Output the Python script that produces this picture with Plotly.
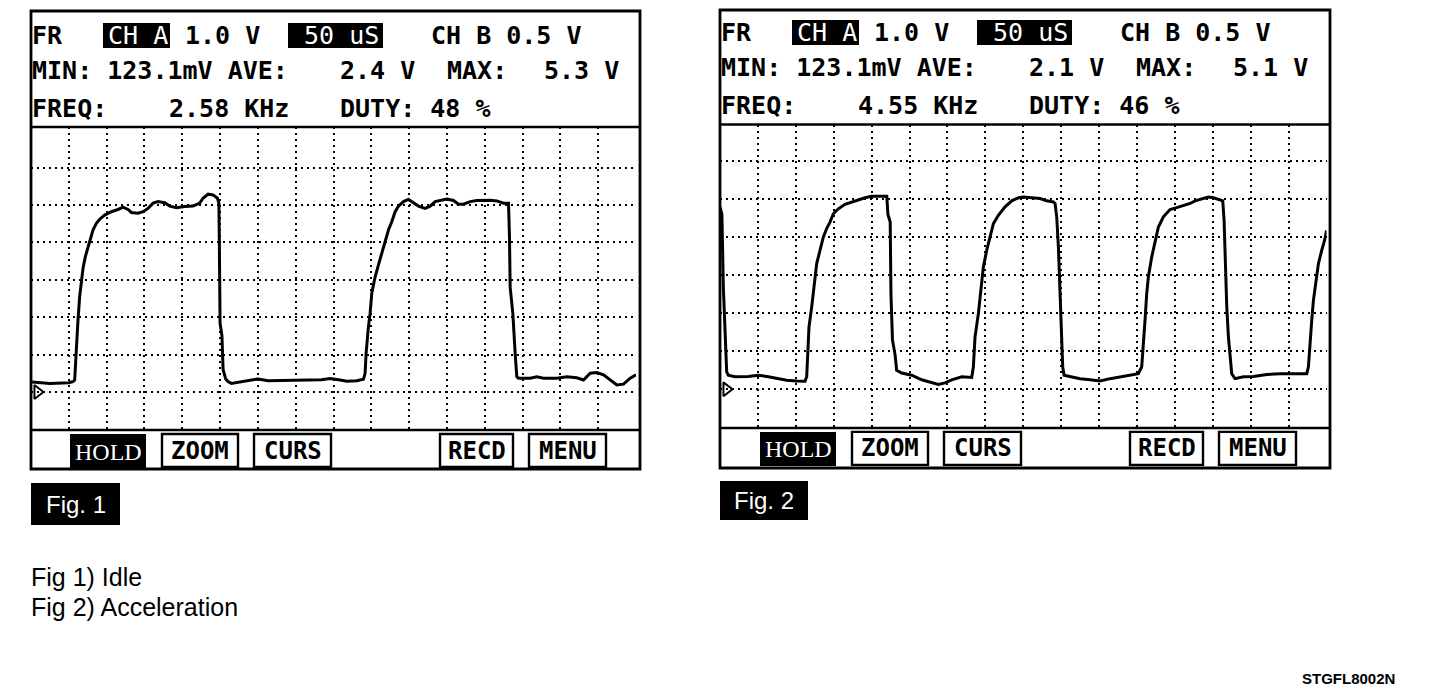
import plotly.graph_objects as go

W, H = 1440, 696
PAGE_MARGIN = 8  # default body margin of the html page

# ---------------- data (time in screen divisions, volts) ----------------
fig1_time_div = [0.03, 0.5, 1.0, 1.11, 1.155, 1.2, 1.243, 1.287, 1.332, 1.376, 1.437, 1.508, 1.579, 1.64,
                 1.728, 1.817, 1.949, 2.125, 2.302, 2.434, 2.566, 2.654, 2.831, 2.963, 3.095, 3.228, 3.36,
                 3.536, 3.669, 3.845, 4.065, 4.286, 4.462, 4.55, 4.683, 4.815, 4.93, 4.97, 4.99, 5.0, 5.05,
                 5.08, 5.15, 5.21, 5.3, 5.653, 6.005, 6.27, 6.799, 7.328, 7.681, 7.91, 8.175, 8.351, 8.616,
                 8.792, 8.836, 8.862, 8.924, 8.968, 9.012, 9.101, 9.189, 9.277, 9.365, 9.453, 9.541, 9.63,
                 9.718, 9.85, 9.982, 10.115, 10.247, 10.423, 10.556, 10.688, 10.82, 10.997, 11.173, 11.305,
                 11.437, 11.614, 11.79, 11.966, 12.143, 12.319, 12.496, 12.628, 12.654, 12.672, 12.743,
                 12.804, 12.848, 12.892, 13.201, 13.377, 13.554, 13.907, 14.171, 14.436, 14.612, 14.788,
                 14.965, 15.141, 15.317, 15.494, 15.67, 15.847, 16.0]
fig1_volts = [0.27, 0.23, 0.25, 0.28, 0.32, 1.35, 1.93, 2.55, 3.0, 3.31, 3.62, 3.89, 4.15, 4.33, 4.51, 4.62,
              4.73, 4.82, 4.88, 4.94, 4.88, 4.8, 4.78, 4.82, 4.91, 5.05, 5.09, 5.06, 4.97, 4.93, 4.96, 4.97,
              5.05, 5.18, 5.29, 5.27, 5.18, 5.05, 3.0, 1.84, 1.5, 0.6, 0.35, 0.28, 0.23, 0.28, 0.35, 0.3,
              0.32, 0.32, 0.33, 0.36, 0.32, 0.29, 0.3, 0.34, 0.5, 1.03, 1.75, 2.1, 2.64, 3.08, 3.4, 3.71,
              4.06, 4.33, 4.55, 4.82, 4.97, 5.09, 5.15, 5.06, 4.97, 4.91, 4.97, 5.09, 5.12, 5.16, 5.12, 5.02,
              5.02, 5.09, 5.12, 5.13, 5.13, 5.11, 5.05, 5.05, 4.15, 2.8, 2.1, 1.03, 0.41, 0.37, 0.37, 0.41,
              0.37, 0.37, 0.41, 0.38, 0.32, 0.5, 0.52, 0.46, 0.32, 0.19, 0.21, 0.37, 0.46]

fig2_time_div = [0.0, 0.05, 0.088, 0.132, 0.176, 0.22, 0.396, 0.748, 1.011, 1.275, 1.539, 1.759, 2.023,
                 2.243, 2.287, 2.313, 2.348, 2.419, 2.463, 2.507, 2.551, 2.639, 2.727, 2.814, 2.902, 2.99,
                 3.122, 3.298, 3.474, 3.65, 3.826, 4.002, 4.178, 4.4, 4.43, 4.49, 4.51, 4.55, 4.62, 4.66,
                 4.794, 5.057, 5.321, 5.585, 5.761, 5.937, 6.113, 6.377, 6.641, 6.684, 6.728, 6.816, 6.904,
                 6.948, 7.036, 7.124, 7.212, 7.344, 7.52, 7.696, 7.872, 8.004, 8.179, 8.443, 8.619, 8.795,
                 8.839, 8.883, 8.927, 8.971, 9.015, 9.041, 9.077, 9.235, 9.499, 9.763, 10.026, 10.29,
                 10.554, 10.818, 11.037, 11.125, 11.169, 11.213, 11.257, 11.301, 11.389, 11.477, 11.565,
                 11.697, 11.873, 12.049, 12.225, 12.401, 12.533, 12.708, 12.884, 13.016, 13.193, 13.263,
                 13.298, 13.325, 13.369, 13.412, 13.456, 13.5, 13.588, 13.808, 14.072, 14.424, 14.776,
                 15.127, 15.479, 15.523, 15.567, 15.611, 15.655, 15.743, 15.787, 15.875, 15.963, 16.0]
fig2_volts = [4.8, 4.6, 2.69, 1.29, 0.46, 0.37, 0.33, 0.34, 0.37, 0.33, 0.28, 0.24, 0.22, 0.21, 0.33, 1.11,
              1.64, 2.17, 2.61, 2.96, 3.31, 3.66, 4.01, 4.23, 4.4, 4.62, 4.75, 4.87, 4.93, 4.99, 5.04, 5.08,
              5.08, 5.08, 4.6, 4.4, 2.5, 1.3, 0.9, 0.5, 0.43, 0.37, 0.25, 0.17, 0.13, 0.17, 0.25, 0.33, 0.31,
              0.59, 1.38, 1.99, 2.78, 3.22, 3.66, 4.05, 4.36, 4.58, 4.8, 4.96, 5.04, 5.06, 5.04, 5.02, 4.96,
              4.93, 4.89, 4.54, 3.75, 2.43, 1.29, 0.59, 0.37, 0.33, 0.28, 0.25, 0.22, 0.28, 0.33, 0.37, 0.41,
              0.59, 1.11, 1.82, 2.52, 2.96, 3.48, 3.92, 4.27, 4.54, 4.73, 4.78, 4.84, 4.89, 4.96, 5.02, 5.06,
              5.04, 4.99, 4.96, 4.45, 3.31, 2.17, 1.38, 0.76, 0.41, 0.28, 0.33, 0.34, 0.39, 0.41, 0.41, 0.41,
              0.59, 1.29, 1.82, 2.34, 2.96, 3.31, 3.66, 3.97, 4.18]

ch_a_scale = ["1.0 V", "1.0 V"]
timebase = ["50 uS", "50 uS"]
ch_b_scale = ["CH B 0.5 V", "CH B 0.5 V"]
min_vals = ["123.1mV", "123.1mV"]
ave_vals = ["2.4 V", "2.1 V"]
max_vals = ["5.3 V", "5.1 V"]
freq_vals = ["2.58 KHz", "4.55 KHz"]
duty_vals = ["48 %", "46 %"]
buttons = ["HOLD", "ZOOM", "CURS", "RECD", "MENU"]
fig_labels = ["Fig. 1", "Fig. 2"]
captions = ["Fig 1) Idle", "Fig 2) Acceleration"]
doc_code = "STGFL8002N"

# ---------------- helpers (page pixel -> paper fraction) ----------------
def xp(px):
    return (px - PAGE_MARGIN) / W

def yp(py):
    return 1 - (py - PAGE_MARGIN) / H

MONO = "DejaVu Sans Mono"
SANS = "Liberation Sans"

shapes = []
annotations = []

def text(x, y, s, size=25, color="black", family=MONO, weight="bold", anchor="left"):
    annotations.append(dict(x=xp(x), y=yp(y), xref="paper", yref="paper", text=s, showarrow=False,
                            xanchor=anchor, yanchor="middle", borderpad=0,
                            font=dict(family=family, size=size, color=color, weight=weight)))

def rect(x0, y0, x1, y1, fill=None, lw=2.5, layer="above"):
    shapes.append(dict(type="rect", xref="paper", yref="paper", x0=xp(x0), x1=xp(x1), y0=yp(y0), y1=yp(y1),
                       line=dict(color="black", width=lw), fillcolor=fill if fill else "rgba(0,0,0,0)",
                       layer=layer))

def hline(x0, x1, y, lw=2.0):
    shapes.append(dict(type="line", xref="paper", yref="paper", x0=xp(x0), x1=xp(x1), y0=yp(y), y1=yp(y),
                       line=dict(color="black", width=lw), layer="above"))

# screen geometry for both scope screens
screens = [
    dict(left=31, right=640, top=11, bottom=469, sep=127, bar=430, plot_right=636, zero=392, vdiv=37.4,
         dx=0, dy=0),
    dict(left=720, right=1330, top=10, bottom=468, sep=124.5, bar=428, plot_right=1326.5, zero=389.3,
         vdiv=38.0, dx=689, dy=-3),
]

fig = go.Figure()
series = [(fig1_time_div, fig1_volts), (fig2_time_div, fig2_volts)]

layout_axes = {}
for i, sc in enumerate(screens):
    n = "" if i == 0 else str(i + 1)
    xa, ya = "x" + n, "y" + n
    t, v = series[i]
    fig.add_trace(go.Scatter(x=t, y=v, mode="lines", line=dict(color="black", width=3),
                             xaxis=xa, yaxis=ya, hoverinfo="skip", showlegend=False))
    # ground reference marker
    fig.add_trace(go.Scatter(x=[0.17], y=[0], mode="markers", xaxis=xa, yaxis=ya, hoverinfo="skip",
                             marker=dict(symbol="triangle-right-open", size=12, color="black",
                                         line=dict(width=2, color="black")), showlegend=False))
    ylo = -(sc["bar"] - sc["zero"]) / sc["vdiv"]
    yhi = (sc["zero"] - sc["sep"]) / sc["vdiv"]
    grid = dict(showgrid=True, gridcolor="black", gridwidth=2, griddash="2px,4px", zeroline=False,
                showline=False, showticklabels=False, ticks="", fixedrange=True, tickmode="array")
    layout_axes["xaxis" + n] = dict(domain=[xp(sc["left"]), xp(sc["plot_right"])], range=[0, 16],
                                    tickvals=list(range(1, 16)), anchor=ya, **grid)
    layout_axes["yaxis" + n] = dict(domain=[yp(sc["bar"]), yp(sc["sep"])], range=[ylo, yhi],
                                    tickvals=list(range(0, 7)), anchor=xa, **grid)

    dx, dy = sc["dx"], sc["dy"]
    # frames
    rect(sc["left"], sc["top"], sc["right"], sc["bottom"], lw=2.8)
    hline(sc["left"], sc["right"], sc["sep"], lw=2.4)
    hline(sc["left"], sc["right"], sc["bar"], lw=2.4)

    # header row 1
    r1, r2, r3 = 35.5 + dy, 70.5 + dy, 108 + dy
    text(31 + dx, r1, "FR")
    rect(103 + dx, r1 - 12.5, 170 + dx, r1 + 12.5, fill="black", lw=0)
    text(107 + dx, r1, "CH A", color="white", weight="normal")
    text(184 + dx, r1, ch_a_scale[i])
    rect(288 + dx, r1 - 12.5, 383 + dx, r1 + 12.5, fill="black", lw=0)
    text(303 + dx, r1, timebase[i], color="white", weight="normal")
    text(430 + dx, r1, ch_b_scale[i])
    # row 2
    text(31 + dx, r2, "MIN: " + min_vals[i] + " AVE:")
    text(339 + dx, r2, ave_vals[i])
    text(446 + dx, r2, "MAX:")
    text(543 + dx, r2, max_vals[i])
    # row 3
    text(31 + dx, r3, "FREQ:")
    text(168 + dx, r3, freq_vals[i])
    text(339 + dx, r3, "DUTY: " + duty_vals[i])

    # buttons
    bx = [(70, 146), (162, 238), (254, 331), (440, 513), (529, 606)]
    by0, by1 = 434 + sc["dy"] * 0.7, 467 + sc["dy"] * 0.7
    for j, (a, b) in enumerate(bx):
        a += dx + (1 if i else 0)
        b += dx + (1 if i else 0)
        if j == 0:
            rect(a, by0, b, by1 + 1, fill="black", lw=0)
            text((a + b) / 2, (by0 + by1) / 2 + 1, buttons[j], size=24, color="white",
                 family="Liberation Serif", weight="normal", anchor="center")
        else:
            rect(a, by0, b, by1, fill="white", lw=2.4)
            text((a + b) / 2, (by0 + by1) / 2, buttons[j], size=24, anchor="center")

# figure labels
lbl_boxes = [(31, 483, 120, 525), (720, 481, 808, 520)]
for k, (a, b, c, d) in enumerate(lbl_boxes):
    rect(a, b, c, d, fill="black", lw=0)
    text((a + c) / 2, (b + d) / 2, fig_labels[k], size=24, color="white", family=SANS, weight="normal",
         anchor="center")

text(30, 577, captions[0], size=25, family=SANS, weight="normal")
text(30, 607, captions[1], size=25, family=SANS, weight="normal")
annotations.append(dict(x=xp(1397), y=yp(678), xref="paper", yref="paper", text=doc_code, showarrow=False,
                        xanchor="right", yanchor="middle",
                        font=dict(family=SANS, size=15, color="black", weight="bold")))

fig.update_layout(width=W, height=H, margin=dict(l=0, r=0, t=0, b=0), paper_bgcolor="white",
                  plot_bgcolor="white", showlegend=False, shapes=shapes, annotations=annotations,
                  **layout_axes)

fig.write_html("out.html", config={"displayModeBar": False})
